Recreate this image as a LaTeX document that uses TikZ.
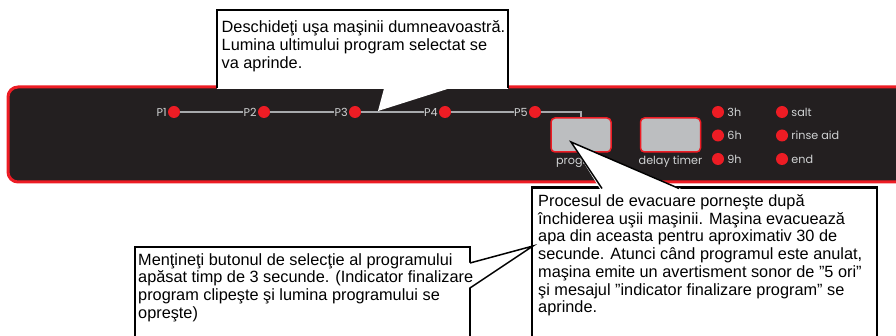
\documentclass[tikz,border=0pt]{standalone}
\usepackage{fontspec}
\setmainfont{Liberation Sans}
\newfontfamily\panelfont{Poppins}
\usetikzlibrary{positioning,calc}
\definecolor{panelblack}{HTML}{231F20}
\definecolor{ledred}{HTML}{ED1C24}
\definecolor{btngray}{HTML}{BCBEC0}
\definecolor{linegray}{HTML}{A7A9AC}
\definecolor{labelgray}{HTML}{D1D3D4}
\begin{document}
\begin{tikzpicture}[x=1pt,y=-1pt,
  led/.style={circle,fill=ledred,minimum size=12pt,inner sep=0pt},
  plabel/.style={font=\panelfont\fontsize{11.2}{12}\selectfont,text=labelgray,inner sep=0pt},
  btn/.style={rectangle,rounded corners=4pt,fill=btngray,draw=ledred,line width=1.5pt,minimum width=60pt,minimum height=34pt},
  wire/.style={draw=linegray,line width=2pt},
  calltext/.style={font=\fontsize{16.3}{17.7}\selectfont,align=left,inner sep=0pt,anchor=north west}
]
\useasboundingbox (0,0) rectangle (896,336);
\clip (0,0) rectangle (896,336);
% panel
\draw[draw=ledred,line width=3pt,fill=panelblack,rounded corners=10pt] (8,87) rectangle (912,182);
% program LEDs
\node[led] (d1) at (174,112) {};
\node[led] (d2) at (264,112) {};
\node[led] (d3) at (355,112) {};
\node[led] (d4) at (445,112) {};
\node[led] (d5) at (535,112) {};
\node[plabel,left=1pt of d1] (l1) {P1};
\node[plabel,left=1pt of d2] (l2) {P2};
\node[plabel,left=1pt of d3] (l3) {P3};
\node[plabel,left=1pt of d4] (l4) {P4};
\node[plabel,left=1pt of d5] (l5) {P5};
% buttons
\node[btn] (b1) at (581,135) {};
\node[btn] (b2) at (670.5,135) {};
\node[plabel,anchor=base] (bl1) at (581,165) {program};
\node[plabel,anchor=base] (bl2) at (670.5,165) {delay timer};
% wires
\draw[wire] (d1) -- (l2);
\draw[wire] (d2) -- (l3);
\draw[wire] (d3) -- (l4);
\draw[wire] (d4) -- (l5);
\draw[wire] (d5) -| (b1.north);
% status LEDs
\node[led] (h3) at (718,112) {};
\node[led] (h6) at (718,135.5) {};
\node[led] (h9) at (718,159) {};
\node[led] (salt) at (782,112) {};
\node[led] (rinse) at (782,135.5) {};
\node[led] (end) at (782,159) {};
\node[plabel,right=3pt of h3] (lh3) {3h};
\node[plabel,right=3pt of h6] (lh6) {6h};
\node[plabel,right=3pt of h9] (lh9) {9h};
\node[plabel,right=3pt of salt] (lsalt) {salt};
\node[plabel,right=3pt of rinse] (lrinse) {rinse aid};
\node[plabel,right=3pt of end] (lend) {end};
% top callout
\fill[white] (217,10) rectangle (508,88.8);
\draw[line width=1.8pt] (217,88) -- (217,10) -- (508,10) -- (508,88);
\fill[white] (384,88.5) -- (449,88.5) -- (378,111) -- cycle;
\node[calltext] (t1) at (221.5,20.5) {Deschideţi uşa maşinii dumneavoastră.\\Lumina ultimului program selectat se\\va aprinde.};
% right callout
\draw[line width=2.5pt,fill=white] (532,187.5) rectangle (877,350);
\fill[white] (600,188.9) -- (571,142) -- (681,188.9) -- cycle;
\draw[line width=1.5pt] (602,188.5) -- (571,142) -- (679,188.5);
\node[calltext] (t2) at (538,194.3) {Procesul de evacuare porneşte după\\închiderea uşii maşinii. Maşina evacuează\\apa din aceasta pentru aproximativ 30 de\\secunde. Atunci când programul este anulat,\\maşina emite un avertisment sonor de ”5 ori”\\şi mesajul ”indicator finalizare program” se\\aprinde.};
% left callout
\draw[line width=2pt,fill=white] (135,247) rectangle (470,350);
\fill[white] (468.6,263) -- (533,246) -- (468.6,288) -- cycle;
\draw[line width=1.5pt] (470,263) -- (533,246) -- (470,288);
\node[calltext] (t3) at (138,253) {Menţineţi butonul de selecţie al programului\\apăsat timp de 3 secunde. (Indicator finalizare\\program clipeşte şi lumina programului se\\opreşte)};
\end{tikzpicture}
\end{document}
